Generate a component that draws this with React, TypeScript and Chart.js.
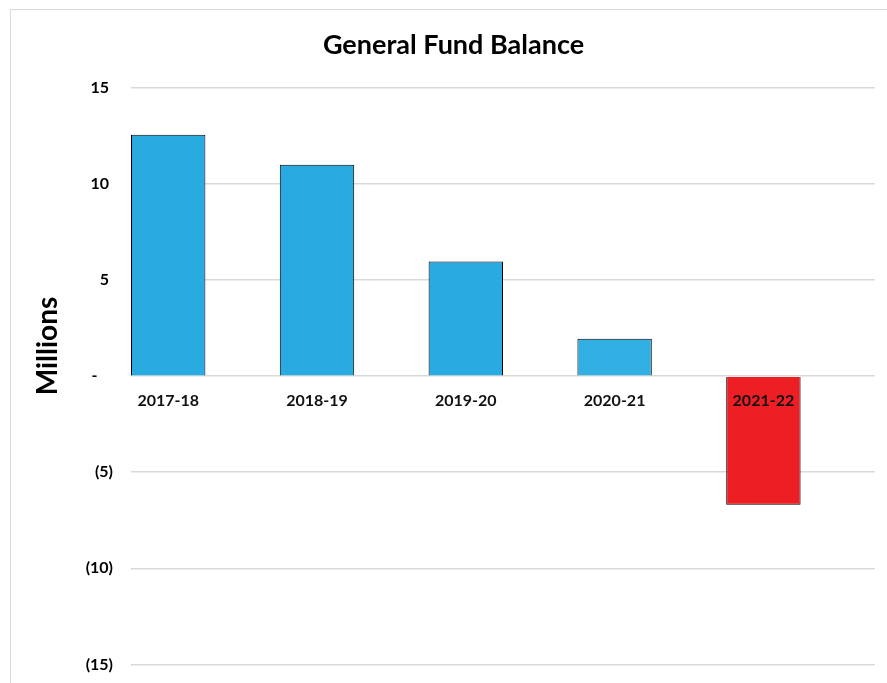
import React, { useEffect, useRef } from "react";
import { Chart, registerables } from "chart.js";

Chart.register(...registerables);

const categories = ["2017-18", "2018-19", "2019-20", "2020-21", "2021-22"];
const balances = [12.56, 11.0, 5.96, 1.95, -6.69];
const barColors = ["#29ABE2", "#29ABE2", "#29ABE2", "#33B0E3", "#ED1F24"];
const chartTitle = "General Fund Balance";
const yAxisTitle = "Millions";
const yMin = -15;
const yMax = 15;
const yStep = 5;

const FONT = "Lato, 'Open Sans', sans-serif";

function formatAccounting(v: number): string {
  if (v > 0) return `${v} `;
  if (v < 0) return `(${-v})`;
  return "-    ";
}

const yTitlePlugin = {
  id: "yTitlePlugin",
  afterDraw(chart: any) {
    const ctx = chart.ctx;
    const yScale = chart.scales.y;
    ctx.save();
    ctx.font = `bold 28px ${FONT}`;
    ctx.fillStyle = "#000";
    ctx.textAlign = "center";
    ctx.textBaseline = "middle";
    ctx.translate(yScale.left + 16, chart.height / 2 - 5);
    ctx.rotate(-Math.PI / 2);
    ctx.fillText(yAxisTitle, 0, 0);
    ctx.restore();
  },
};

export default function App() {
  const canvasRef = useRef<HTMLCanvasElement | null>(null);

  useEffect(() => {
    const canvas = canvasRef.current;
    if (!canvas) return;
    const chart = new Chart(canvas, {
      type: "bar",
      data: {
        datasets: [
          {
            data: balances.map((v, i) => ({ x: i, y: v })),
            backgroundColor: barColors,
            borderColor: "#000",
            borderWidth: 1,
            barPercentage: 0.5,
            categoryPercentage: 1,
          },
        ],
      },
      options: {
        responsive: false,
        animation: false,
        layout: { padding: { left: 21, right: 21, top: 0, bottom: 0 } },
        plugins: {
          legend: { display: false },
          tooltip: { enabled: false },
          title: {
            display: true,
            text: chartTitle,
            color: "#000",
            font: { family: FONT, size: 27, weight: "bold" },
            padding: { top: 19, bottom: 26.5 },
          },
        },
        scales: {
          x: {
            type: "linear",
            min: -0.25,
            max: categories.length - 0.25,
            offset: false,
            position: { y: 0 } as any,
            grid: { display: false, drawTicks: false },
            border: { display: false },
            afterBuildTicks: (scale: any) => {
              scale.ticks = categories.map((_, i) => ({ value: i }));
            },
            ticks: {
              z: 1,
              padding: 15,
              maxRotation: 0,
              autoSkip: false,
              color: "#111",
              font: { family: FONT, size: 16, weight: "bold" },
              callback: (v: any) => categories[Math.round(Number(v))] ?? "",
            },
          },
          y: {
            min: yMin,
            max: yMax,
            afterFit: (scale: any) => {
              scale.width = 99;
            },
            grid: { color: "#d9d9d9", lineWidth: 1.5, drawTicks: false },
            border: { display: false },
            ticks: {
              stepSize: yStep,
              padding: 18,
              color: "#000",
              font: { family: FONT, size: 16, weight: "bold" },
              callback: (v: any) => formatAccounting(Number(v)),
            },
          },
        },
      },
      plugins: [yTitlePlugin],
    });
    return () => chart.destroy();
  }, []);

  return (
    <div
      style={{
        position: "fixed",
        left: 10,
        top: 9,
        right: 0,
        bottom: 0,
        overflow: "hidden",
        borderLeft: "1px solid #d9d9d9",
        borderTop: "1px solid #d9d9d9",
        background: "#fff",
      }}
    >
      <canvas ref={canvasRef} width={885} height={682} style={{ display: "block", width: 885, height: 682 }} />
    </div>
  );
}
